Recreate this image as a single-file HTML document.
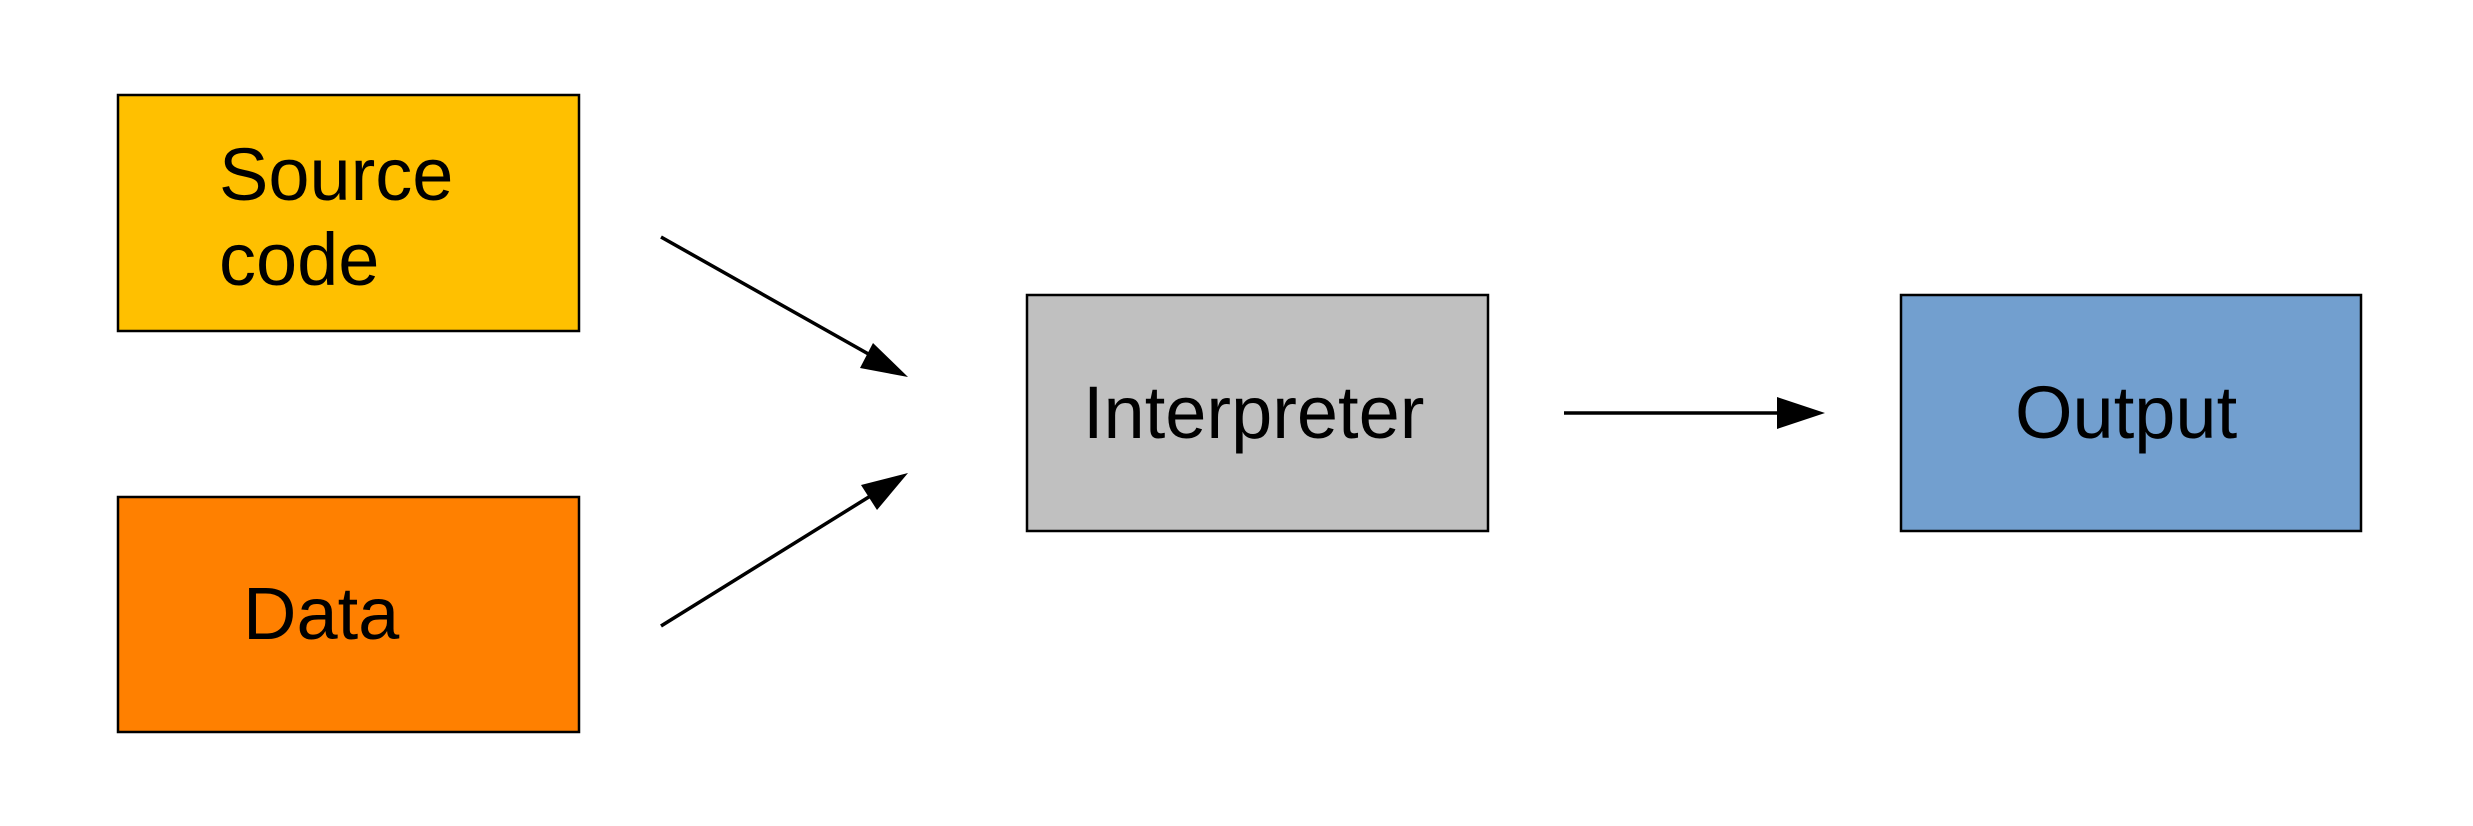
<!DOCTYPE html>
<html><head><meta charset="utf-8"><style>html,body{margin:0;padding:0;background:#fff}</style></head>
<body>
<svg width="2473" height="826" xmlns="http://www.w3.org/2000/svg" style="display:block">
<g stroke="#000" stroke-width="2.5">
<rect x="118" y="95" width="461" height="236" fill="#ffc000"/>
<rect x="118" y="497" width="461" height="235" fill="#ff8000"/>
<rect x="1027" y="295" width="461" height="236" fill="#c0c0c0"/>
<rect x="1901" y="295" width="460" height="236" fill="#729fcf"/>
<line x1="661" y1="237" x2="872" y2="356" stroke-width="3.5"/>
<line x1="661" y1="626" x2="872" y2="495" stroke-width="3.5"/>
<line x1="1564" y1="413" x2="1785" y2="413" stroke-width="3.5"/>
</g>
<g fill="#000">
<polygon points="908,377 860,368 873,343"/>
<polygon points="908,473 877,510 861,485"/>
<polygon points="1825,413 1777,397 1777,429"/>
</g>
<g font-family="Liberation Sans, sans-serif" font-size="74" fill="#000">
<text x="219" y="200">Source</text>
<text x="219" y="285">code</text>
<text x="243" y="639">Data</text>
<text x="1083" y="438">Interpreter</text>
<text x="2015" y="438">Output</text>
</g>
</svg>
</body></html>
